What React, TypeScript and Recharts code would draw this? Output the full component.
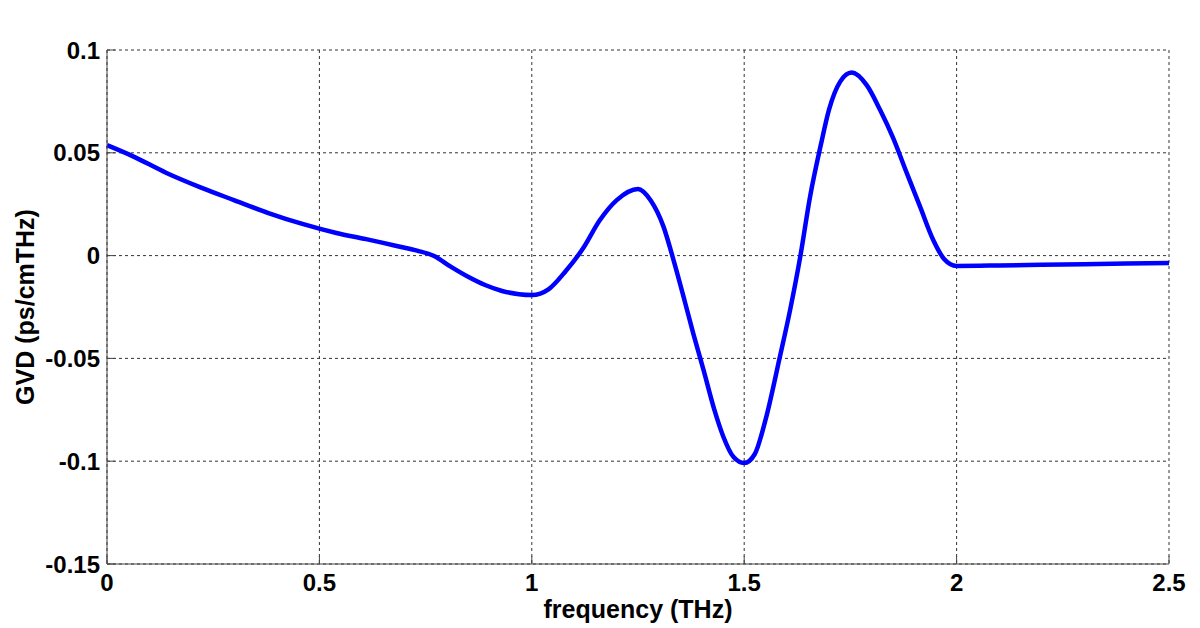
import { LineChart, Line, XAxis, YAxis, CartesianGrid, Label } from "recharts";

// GVD of the double-ring fiber vs frequency
const freqTHz = [
  0, 0.06, 0.14, 0.22, 0.3, 0.38, 0.46, 0.54, 0.61, 0.65, 0.69, 0.73, 0.77,
  0.81, 0.85, 0.89, 0.93, 0.97, 1.0, 1.04, 1.08, 1.12, 1.16, 1.2, 1.25, 1.28,
  1.31, 1.335, 1.36, 1.38, 1.405, 1.43, 1.45, 1.475, 1.5, 1.525, 1.55, 1.584,
  1.608, 1.632, 1.655, 1.68, 1.7, 1.726, 1.753, 1.788, 1.82, 1.85, 1.883,
  1.914, 1.945, 1.97, 2.0, 2.1, 2.2, 2.3, 2.4, 2.5,
];
const gvd = [
  0.0537, 0.0484, 0.0402, 0.0332, 0.0269, 0.0207, 0.0154, 0.011, 0.008,
  0.0062, 0.0043, 0.0024, -0.0002, -0.0055, -0.0103, -0.0143, -0.0172,
  -0.0188, -0.0192, -0.0163, -0.0075, 0.0033, 0.0172, 0.027, 0.0324, 0.0268,
  0.0141, -0.0032, -0.0222, -0.0378, -0.0562, -0.0752, -0.0876, -0.098,
  -0.1009, -0.0965, -0.08, -0.0492, -0.0265, -0.0005, 0.0286, 0.0535, 0.0712,
  0.0846, 0.089, 0.083, 0.0708, 0.0575, 0.04, 0.0238, 0.0076, -0.0015,
  -0.005, -0.0048, -0.0045, -0.0042, -0.0039, -0.0036,
];
const xTicks = [0, 0.5, 1, 1.5, 2, 2.5];
const yTicks = [-0.15, -0.1, -0.05, 0, 0.05, 0.1];

const data = freqTHz.map((f, i) => ({ f, gvd: gvd[i] }));

const font = "'Liberation Sans', Arial, sans-serif";
const tickStyle = { fontFamily: font, fontWeight: 700, fontSize: 24, fill: "#000" };
const frame = "#444";

const YTitle = ({ viewBox }: any) => {
  const cx = viewBox.x + 25;
  const cy = viewBox.y + viewBox.height / 2;
  return (
    <text
      x={cx}
      y={cy}
      transform={`rotate(-90 ${cx} ${cy})`}
      textAnchor="middle"
      dominantBaseline="central"
      style={{ fontFamily: font, fontWeight: 700, fontSize: 25, fill: "#000" }}
    >
      GVD (ps/cmTHz)
    </text>
  );
};

export default function App() {
  return (
    <div style={{ position: "absolute", left: 0, top: 0, width: 1200, height: 628, background: "#fff" }}>
      <LineChart
        width={1200}
        height={628}
        data={data}
        margin={{ top: 50, right: 31, bottom: 0, left: 0 }}
      >
        <CartesianGrid stroke="#333" strokeDasharray="3 3" />
        <XAxis
          dataKey="f"
          type="number"
          domain={[0, 2.5]}
          ticks={xTicks}
          height={64}
          stroke={frame}
          tickSize={-8}
          tickMargin={18}
          tick={tickStyle}
          tickFormatter={(v) => String(v)}
        >
          <Label
            value="frequency (THz)"
            position="insideBottom"
            offset={10}
            style={{ fontFamily: font, fontWeight: 700, fontSize: 25, fill: "#000" }}
          />
        </XAxis>
        <XAxis
          xAxisId="top"
          orientation="top"
          dataKey="f"
          type="number"
          domain={[0, 2.5]}
          ticks={xTicks}
          height={0}
          stroke={frame}
          tickSize={-8}
          tick={false}
        >
          <Label
            value="double-ring fiber"
            position="top"
            offset={20}
            style={{ fontFamily: font, fontWeight: 700, fontSize: 23, fill: "#000" }}
          />
        </XAxis>
        <YAxis
          type="number"
          domain={[-0.15, 0.1]}
          ticks={yTicks}
          width={107}
          stroke={frame}
          tickSize={-8}
          tickMargin={15}
          tick={tickStyle}
          tickFormatter={(v) => String(v)}
        >
          <Label content={<YTitle />} />
        </YAxis>
        <YAxis
          yAxisId="right"
          orientation="right"
          type="number"
          domain={[-0.15, 0.1]}
          ticks={yTicks}
          width={0}
          stroke={frame}
          tickSize={-8}
          tick={false}
        />
        <Line
          type="monotone"
          dataKey="gvd"
          stroke="#0000ff"
          strokeWidth={4.5}
          dot={false}
          isAnimationActive={false}
        />
      </LineChart>
    </div>
  );
}
